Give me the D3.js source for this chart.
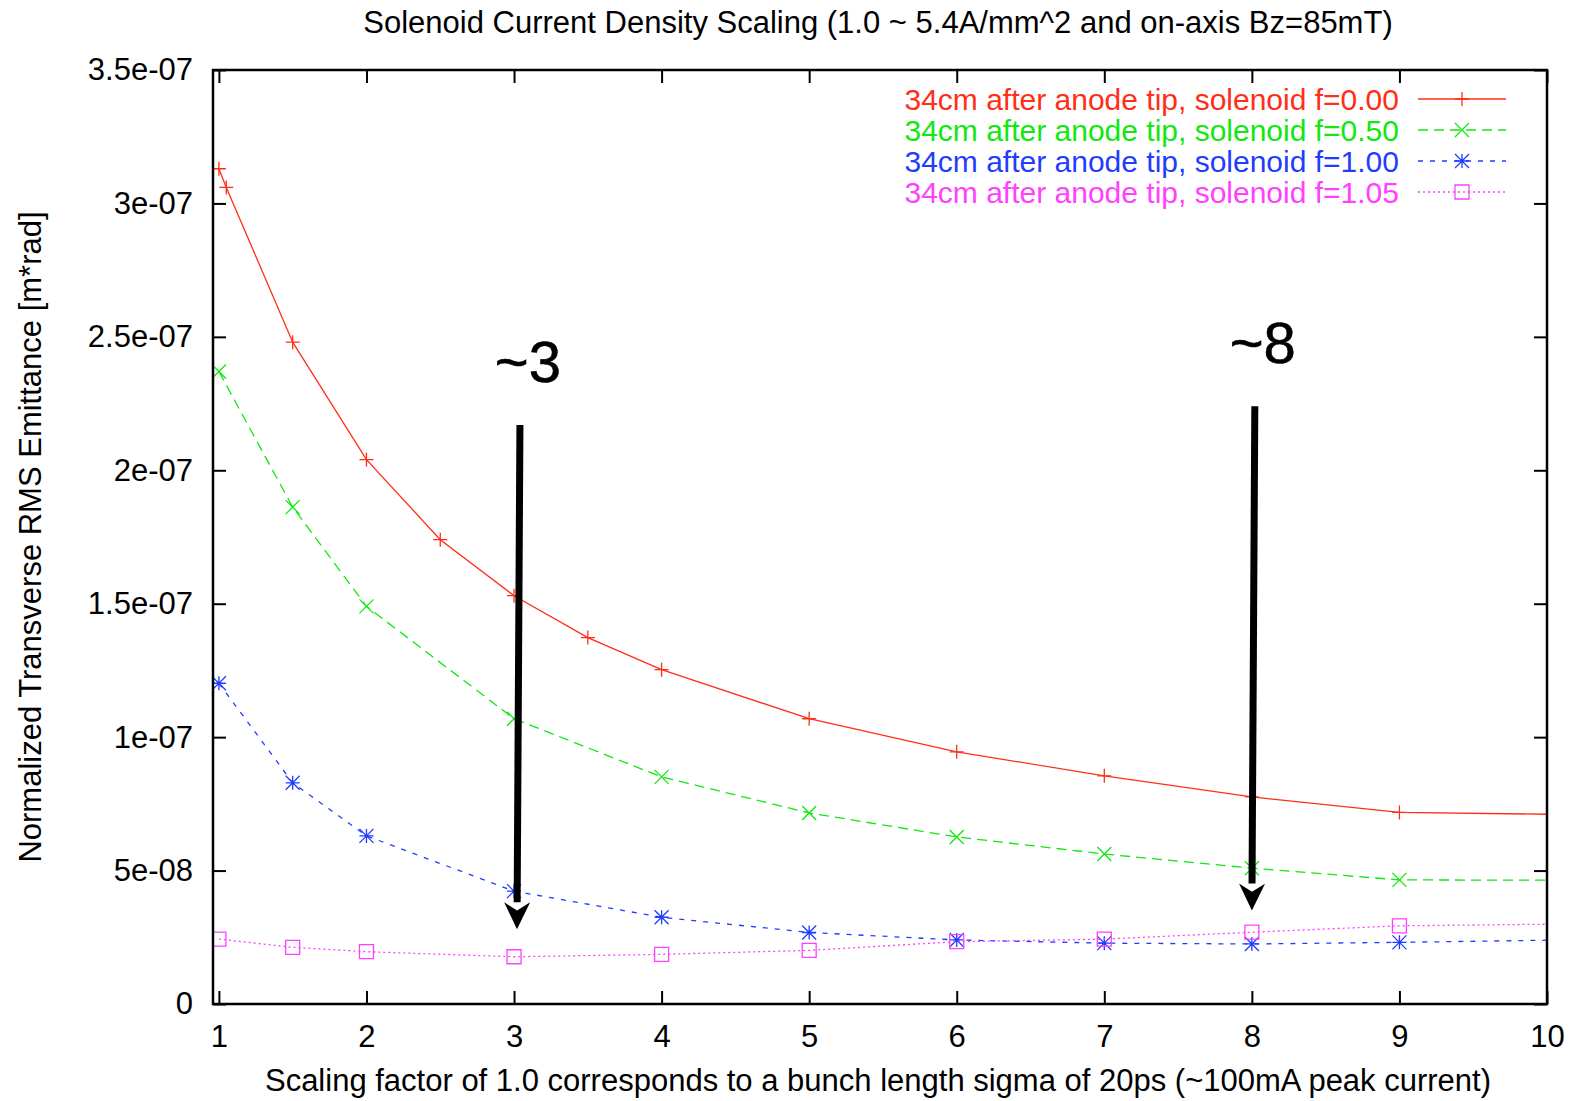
<!DOCTYPE html>
<html>
<head>
<meta charset="utf-8">
<script src="https://cdn.jsdelivr.net/npm/d3@7"></script>
<style>
  body { margin: 0; background: #fff; }
  text { font-family: "Liberation Sans", Arial, sans-serif; }
</style>
</head>
<body>
<div id="chart"></div>
<script>
// Data (emittance in units of 1e-7 m*rad)
var xRed = [1, 1.05, 1.5, 2, 2.5, 3, 3.5, 4, 5, 6, 7, 8, 9, 10]
var yRed = [3.13, 3.06, 2.48, 2.04, 1.74, 1.53, 1.373, 1.253, 1.069, 0.945, 0.855, 0.776, 0.718, 0.711]
var xGreen = [1, 1.5, 2, 3, 4, 5, 6, 7, 8, 9, 10]
var yGreen = [2.37, 1.862, 1.49, 1.069, 0.851, 0.716, 0.626, 0.562, 0.509, 0.465, 0.464]
var xBlue = [1, 1.5, 2, 3, 4, 5, 6, 7, 8, 9, 10]
var yBlue = [1.202, 0.829, 0.63, 0.423, 0.325, 0.268, 0.240, 0.228, 0.225, 0.231, 0.239]
var xMag = [1, 1.5, 2, 3, 4, 5, 6, 7, 8, 9, 10]
var yMag = [0.243, 0.2125, 0.196, 0.177, 0.186, 0.201, 0.2335, 0.243, 0.269, 0.293, 0.299]

var seriesNames = ["34cm after anode tip, solenoid f=0.00",
                   "34cm after anode tip, solenoid f=0.50",
                   "34cm after anode tip, solenoid f=1.00",
                   "34cm after anode tip, solenoid f=1.05"]
var seriesColors = ["#ff2e17", "#10e810", "#1f3cff", "#ff40ff"]
var seriesDash = [null, "10,6", "5,7", "2,3"]
var seriesMarker = ["plus", "cross", "star", "box"]

var xTicks = [1, 2, 3, 4, 5, 6, 7, 8, 9, 10]
var yTicks = [0, 0.5, 1, 1.5, 2, 2.5, 3, 3.5]
var yTickLabels = ["0", "5e-08", "1e-07", "1.5e-07", "2e-07", "2.5e-07", "3e-07", "3.5e-07"]

// annotations: [label, xTop, yTop, xTip, yTip]
var notes = [["~3", 3.04, 2.17, 3.02, 0.28], ["~8", 8.02, 2.24, 8.0, 0.35]]

var W = 1572, H = 1101
var margin = {top: 70, right: 25, bottom: 97, left: 213},
    width = W - margin.left - margin.right,
    height = H - margin.top - margin.bottom

var svg = d3.select("#chart").append("svg")
    .attr("width", W).attr("height", H)

var g = svg.append("g")
    .attr("transform", "translate(" + margin.left + "," + margin.top + ")")

var x = d3.scaleLinear().domain([0.96, 10]).range([0, width])
var y = d3.scaleLinear().domain([0, 3.5]).range([height, 0])

var tickLen = 13

// ticks inward, mirrored
g.append("g").attr("transform", "translate(0," + height + ")")
  .call(d3.axisBottom(x).tickValues(xTicks).tickSize(-tickLen).tickPadding(21).tickFormat(d3.format("d")))
g.append("g")
  .call(d3.axisTop(x).tickValues(xTicks).tickSize(-tickLen).tickFormat(""))
g.append("g")
  .call(d3.axisLeft(y).tickValues(yTicks).tickSize(-tickLen).tickPadding(20)
    .tickFormat(function(d, i) { return yTickLabels[i] }))
g.append("g").attr("transform", "translate(" + width + ",0)")
  .call(d3.axisRight(y).tickValues(yTicks).tickSize(-tickLen).tickFormat(""))

g.selectAll(".domain").remove()
g.selectAll(".tick line").attr("stroke", "#000").attr("stroke-width", 2)
g.selectAll(".tick text").attr("fill", "#000").style("font-size", "31px")

var clip = g.append("clipPath").attr("id", "clip")
  .append("rect").attr("width", width).attr("height", height)

var line = d3.line().x(function(d) { return x(d[0]) }).y(function(d) { return y(d[1]) })

function markerPath(type, s) {
  var h = s / 2
  if (type == "plus") return "M" + (-h) + ",0H" + h + "M0," + (-h) + "V" + h
  if (type == "cross") return "M" + (-h) + "," + (-h) + "L" + h + "," + h + "M" + (-h) + "," + h + "L" + h + "," + (-h)
  if (type == "star") return "M" + (-h) + ",0H" + h + "M0," + (-h) + "V" + h +
    "M" + (-h) + "," + (-h) + "L" + h + "," + h + "M" + (-h) + "," + h + "L" + h + "," + (-h)
  return "M" + (-h) + "," + (-h) + "H" + h + "V" + h + "H" + (-h) + "Z"
}

var allX = [xRed, xGreen, xBlue, xMag]
var allY = [yRed, yGreen, yBlue, yMag]

allX.forEach(function(xs, i) {
  var pts = xs.map(function(v, j) { return [v, allY[i][j]] })
  var sg = g.append("g").attr("clip-path", "url(#clip)")
  sg.append("path").datum(pts)
    .attr("d", line)
    .attr("fill", "none")
    .attr("stroke", seriesColors[i])
    .attr("stroke-width", 1.3)
    .attr("stroke-dasharray", seriesDash[i])
  sg.selectAll(".m").data(pts.filter(function(d) { return d[0] < 10 })).enter().append("path")
    .attr("transform", function(d) { return "translate(" + x(d[0]) + "," + y(d[1]) + ")" })
    .attr("d", markerPath(seriesMarker[i], 14))
    .attr("fill", "none")
    .attr("stroke", seriesColors[i])
    .attr("stroke-width", 1.3)
})

// legend
var leg = g.append("g")
seriesNames.forEach(function(name, i) {
  var ly = 29 + i * 31
  leg.append("text")
    .attr("x", 1186).attr("y", ly).attr("dy", "0.35em")
    .attr("text-anchor", "end")
    .attr("fill", seriesColors[i])
    .style("font-size", "30px")
    .text(name)
  leg.append("line")
    .attr("x1", 1205).attr("x2", 1293).attr("y1", ly).attr("y2", ly)
    .attr("stroke", seriesColors[i]).attr("stroke-width", 1.3)
    .attr("stroke-dasharray", seriesDash[i])
  leg.append("path")
    .attr("transform", "translate(1249," + ly + ")")
    .attr("d", markerPath(seriesMarker[i], 14))
    .attr("fill", "none").attr("stroke", seriesColors[i]).attr("stroke-width", 1.3)
})

// annotation arrows
notes.forEach(function(n) {
  var x0 = x(n[1]), y0 = y(n[2]), x1 = x(n[3]), y1 = y(n[4])
  var ang = Math.atan2(y1 - y0, x1 - x0)
  var hl = 27, hw = 13
  var bx = x1 - hl * Math.cos(ang), by = y1 - hl * Math.sin(ang)
  g.append("line")
    .attr("x1", x0).attr("y1", y0).attr("x2", bx).attr("y2", by)
    .attr("stroke", "#000").attr("stroke-width", 7)
  var px = -Math.sin(ang) * hw, py = Math.cos(ang) * hw
  g.append("path")
    .attr("d", "M" + x1 + "," + y1 + "L" + (bx + px) + "," + (by + py) +
      "L" + (x1 - 0.7 * hl * Math.cos(ang)) + "," + (y1 - 0.7 * hl * Math.sin(ang)) +
      "L" + (bx - px) + "," + (by - py) + "Z")
    .attr("fill", "#000")
  g.append("text")
    .attr("x", x0 + 8).attr("y", y0 - 43)
    .attr("text-anchor", "middle")
    .style("font-size", "58px")
    .attr("fill", "#000")
    .attr("stroke", "#000").attr("stroke-width", 0.6)
    .text(n[0])
})

// frame
g.append("rect").attr("width", width).attr("height", height)
  .attr("fill", "none").attr("stroke", "#000").attr("stroke-width", 2.5)

// titles
svg.append("text").attr("x", 878).attr("y", 33)
  .attr("text-anchor", "middle").style("font-size", "31px")
  .text("Solenoid Current Density Scaling (1.0 ~ 5.4A/mm^2 and on-axis Bz=85mT)")
svg.append("text").attr("x", 878).attr("y", 1091)
  .attr("text-anchor", "middle").style("font-size", "31px")
  .text("Scaling factor of 1.0 corresponds to a bunch length sigma of 20ps (~100mA peak current)")
svg.append("text")
  .attr("transform", "translate(41,537) rotate(-90)")
  .attr("text-anchor", "middle").style("font-size", "31px")
  .text("Normalized Transverse RMS Emittance [m*rad]")
</script>
</body>
</html>
